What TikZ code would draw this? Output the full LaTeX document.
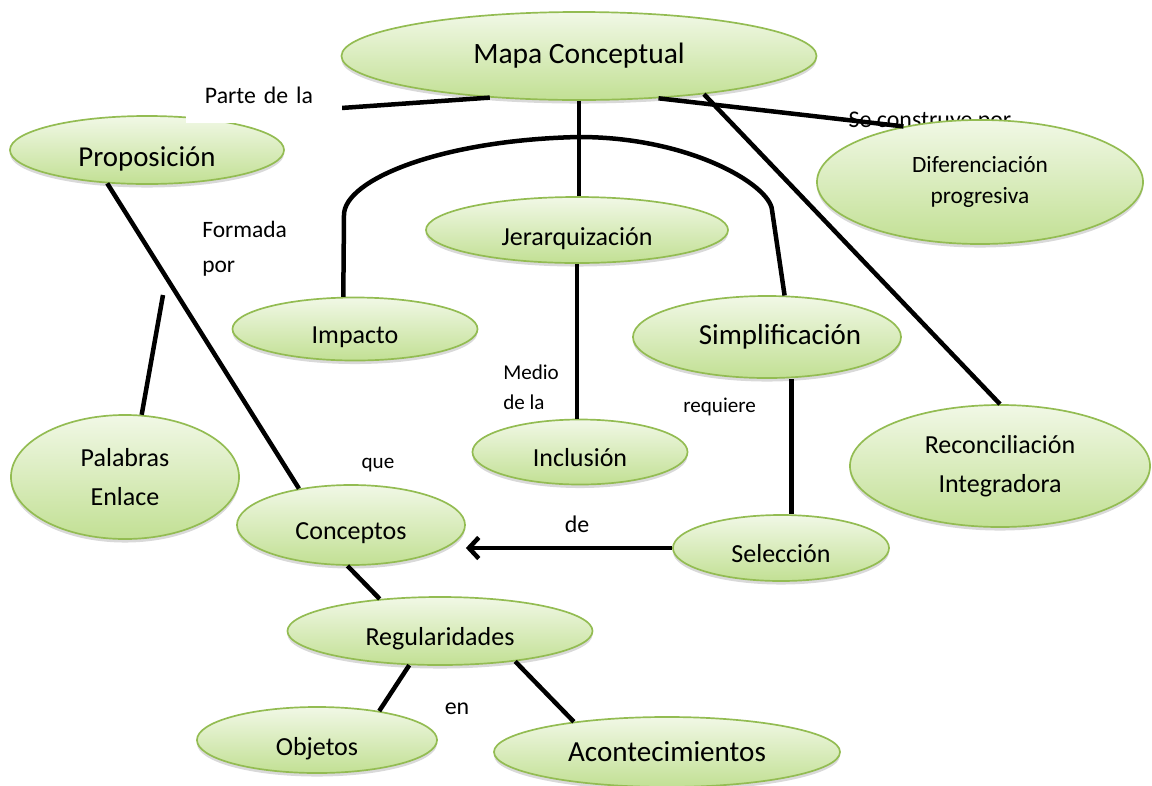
\documentclass[tikz,border=0pt]{standalone}
\usepackage{fontspec}
\setmainfont{Carlito}
\usetikzlibrary{shapes.geometric, shadows, arrows.meta}
\definecolor{elTop}{HTML}{F1F8E6}
\definecolor{elBot}{HTML}{C2E094}
\definecolor{elLine}{HTML}{93BC52}
\newcommand{\setfs}[2]{\fontsize{#1}{#2}\selectfont}

\begin{document}
\begin{tikzpicture}[x=0.025cm, y=-0.025cm,
    concept/.style={ellipse, draw=elLine, line width=1.2pt, top color=elTop, bottom color=elBot,
        inner sep=0pt, align=center, font=\setfs{18.5}{27.7},
        drop shadow={shadow xshift=0pt, shadow yshift=-2.5pt, opacity=0.3}},
    low/.style={text height=#1, text depth=1pt},
    low/.default=21pt,
    link/.style={line width=3.2pt},
    lbl/.style={inner sep=0pt, align=left}]
    \useasboundingbox (0,0) rectangle (1152,785);

    \node[lbl, anchor=base, font=\setfs{17}{20}] (secons) at (930,127) {Se construye por};

    \node[concept, minimum width=11.875cm, minimum height=2.2cm, font=\setfs{21}{25}] (mapa) at (579,56) {Mapa Conceptual};
    \node[concept, low=24pt, minimum width=6.85cm, minimum height=1.7cm, font=\setfs{20.5}{24}] (prop) at (147,150) {Proposición};
    \node[concept, minimum width=8.15cm, minimum height=3.1cm, font=\setfs{16.6}{22}] (difer) at (980,182) {Diferenciación\\progresiva};
    \node[concept, low=23pt, minimum width=7.55cm, minimum height=1.65cm] (jerarq) at (577,230) {Jerarquización};
    \node[concept, low, minimum width=6.125cm, minimum height=1.575cm] (impacto) at (355,329) {Impacto};
    \node[concept, minimum width=6.7cm, minimum height=2.05cm, font=\setfs{20.6}{24}] (simplif) at (767,337) {\hspace{0.65cm}Simplificación};
    \node[concept, minimum width=5.7cm, minimum height=3.1cm] (palabras) at (125,477) {Palabras\\Enlace};
    \node[concept, low, minimum width=5.375cm, minimum height=1.625cm] (incl) at (580,452) {Inclusión};
    \node[concept, minimum width=7.5cm, minimum height=3.05cm] (reconc) at (1000,466) {Reconciliación\\Integradora};
    \node[concept, low, minimum width=5.7cm, minimum height=2cm] (conceptos) at (351,525) {Conceptos};
    \node[concept, low, minimum width=5.4cm, minimum height=1.65cm] (seleccion) at (781,548) {Selección};
    \node[concept, low, minimum width=7.625cm, minimum height=1.7cm] (regular) at (440,631) {Regularidades};
    \node[concept, low=23pt, minimum width=6cm, minimum height=1.65cm] (objetos) at (317,740) {Objetos};
    \node[concept, minimum width=8.65cm, minimum height=1.75cm, font=\setfs{20.7}{24}] (acont) at (667,752) {Acontecimientos};

    \coordinate (formada) at (163,295);

    \draw[link] (mapa.205) -- (prop.31);
    \draw[link] (mapa.-28) -- (difer.144);
    \draw[link] (mapa.-17) -- (reconc.north);
    \draw[link] (mapa.south) -- (mapa.south |- jerarq.north);
    \draw[link] (jerarq.south) -- (jerarq.south |- incl.north);
    \draw[link] (impacto.110) -- (344,215) .. controls (344,180) and (440,140) .. (579,137)
        .. controls (690,137) and (770,185) .. (772,210) -- (simplif.67);
    \draw[link] (seleccion.73) -- (seleccion.73 |- simplif.south);
    \draw[link, -{Straight Barb[length=7pt,width=15pt]}] (seleccion.west) -- (seleccion.west -| conceptos.east);
    \draw[link] (prop.220) -- (conceptos.145);
    \draw[link] (palabras.75) -- (formada);
    \draw[link] (conceptos.265) -- (regular.152);
    \draw[link] (regular.228) -- (objetos.25);
    \draw[link] (regular.-22) -- (acont.162);

    \node[lbl, fill=white, text width=2.95cm, inner xsep=0.475cm, text height=0.625cm, text depth=0.5cm,
        font=\setfs{16.9}{20}] (parte) at (264,100.5) {Parte de la};
    \node[lbl, anchor=north west, font=\setfs{16.7}{24.8}] (formadapor) at (202,221) {Formada\\por};
    \node[lbl, anchor=north west, font=\setfs{15}{21.3}] (medio) at (503,365) {Medio\\de la};
    \node[lbl, anchor=base west, font=\setfs{15}{18}] (requiere) at (683,412) {requiere};
    \node[lbl, anchor=base, font=\setfs{15}{18}] (que) at (378,468) {que};
    \node[lbl, anchor=base, font=\setfs{17}{20}] (de) at (577,532) {de};
    \node[lbl, anchor=base, font=\setfs{17}{20}] (en) at (457,714) {en};
\end{tikzpicture}
\end{document}
